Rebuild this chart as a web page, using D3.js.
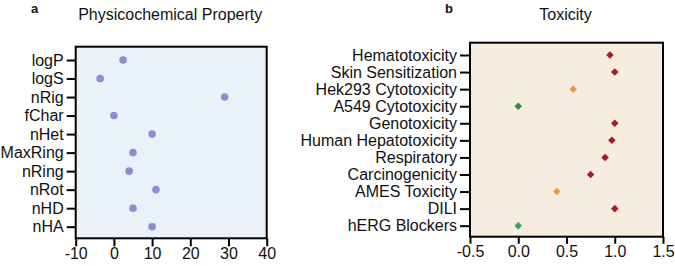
<!DOCTYPE html>
<html lang="en">
<head>
<meta charset="UTF-8">
<title>Physicochemical Property and Toxicity</title>
<script src="https://d3js.org/d3.v7.min.js"></script>
<style>
    body { margin: 0; background: #ffffff; }
    svg text { font-family: "Liberation Sans", Arial, sans-serif; fill: #111; }
    .tick line { stroke: #000; stroke-width: 2; }
</style>
</head>
<body>
<div id="chart"></div>
<script>
// Panel a data
const propNames = ["logP", "logS", "nRig", "fChar", "nHet", "MaxRing", "nRing", "nRot", "nHD", "nHA"];
const propValues = [2.4, -3.6, 29, 0, 10, 5, 4, 11, 5, 10];
const propTicks = [-10, 0, 10, 20, 30, 40];

// Panel b data
const toxNames = ["Hematotoxicity", "Skin Sensitization", "Hek293 Cytotoxicity", "A549 Cytotoxicity",
    "Genotoxicity", "Human Hepatotoxicity", "Respiratory", "Carcinogenicity", "AMES Toxicity", "DILI", "hERG Blockers"];
const toxValues = [0.95, 1.0, 0.57, 0.0, 1.0, 0.97, 0.90, 0.75, 0.40, 1.0, 0.0];
const toxLevel = ["high", "high", "mid", "low", "high", "high", "high", "high", "mid", "high", "low2"];
const toxTicks = [-0.5, 0.0, 0.5, 1.0, 1.5];

const levelColor = { high: "#a31c25", mid: "#ea9a3e", low: "#2e8a47", low2: "#3c9f62" };

// plain hyphen for negatives, like the original
const fmtInt = d => String(d);
const fmtOne = d => d.toFixed(1);

const svg = d3.select("#chart").append("svg")
    .attr("width", 675)
    .attr("height", 266);

// ---- panel a ----
const a = { left: 75.7, right: 266.7, top: 46.7, bottom: 238.3 };

const xA = d3.scaleLinear().domain([-10, 40]).range([a.left, a.right]);
const yA = d3.scalePoint().domain(propNames).range([60, 226.7]);

svg.append("rect")
    .attr("x", a.left).attr("y", a.top)
    .attr("width", a.right - a.left).attr("height", a.bottom - a.top)
    .attr("fill", "#ebf1f9");

svg.selectAll("circle.dot")
    .data(propNames)
    .enter()
    .append("circle")
    .attr("class", "dot")
    .attr("cx", (d, i) => xA(propValues[i]))
    .attr("cy", d => yA(d))
    .attr("r", 3.8)
    .attr("fill", "#8b8fd0");

svg.append("rect")
    .attr("x", a.left).attr("y", a.top)
    .attr("width", a.right - a.left).attr("height", a.bottom - a.top)
    .attr("fill", "none").attr("stroke", "#000").attr("stroke-width", 2);

const axA = svg.append("g")
    .attr("transform", `translate(${a.left},0)`)
    .call(d3.axisLeft(yA).tickSize(9).tickPadding(3));
axA.select(".domain").remove();
axA.selectAll("text").style("font-size", "16px");

const bxA = svg.append("g")
    .attr("transform", `translate(0,${a.bottom})`)
    .call(d3.axisBottom(xA).tickValues(propTicks).tickSize(8).tickPadding(1).tickFormat(fmtInt));
bxA.select(".domain").remove();
bxA.selectAll("text").style("font-size", "16px");

svg.append("text")
    .attr("x", (a.left + a.right) / 2 - 1).attr("y", 20)
    .attr("text-anchor", "middle")
    .style("font-size", "16px")
    .text("Physicochemical Property");

svg.append("text")
    .attr("x", 31).attr("y", 12.5)
    .style("font-size", "13px").style("font-weight", "bold")
    .text("a");

// ---- panel b ----
const b = { left: 470, right: 663, top: 42.7, bottom: 236.7 };

const xB = d3.scaleLinear().domain([-0.5, 1.5]).range([b.left, b.right]);
const yB = d3.scalePoint().domain(toxNames).range([55, 225.7]);

svg.append("rect")
    .attr("x", b.left).attr("y", b.top)
    .attr("width", b.right - b.left).attr("height", b.bottom - b.top)
    .attr("fill", "#f4ede0");

const diamond = d3.symbol().type(d3.symbolDiamond2).size(36);

svg.selectAll("path.diamond")
    .data(toxNames)
    .enter()
    .append("path")
    .attr("class", "diamond")
    .attr("d", diamond)
    .attr("transform", (d, i) => `translate(${xB(toxValues[i])},${yB(d)})`)
    .attr("fill", (d, i) => levelColor[toxLevel[i]]);

svg.append("rect")
    .attr("x", b.left).attr("y", b.top)
    .attr("width", b.right - b.left).attr("height", b.bottom - b.top)
    .attr("fill", "none").attr("stroke", "#000").attr("stroke-width", 2);

const axB = svg.append("g")
    .attr("transform", `translate(${b.left},0)`)
    .call(d3.axisLeft(yB).tickSize(10).tickPadding(3));
axB.select(".domain").remove();
axB.selectAll("text").style("font-size", "16px");

const bxB = svg.append("g")
    .attr("transform", `translate(0,${b.bottom})`)
    .call(d3.axisBottom(xB).tickValues(toxTicks).tickSize(7).tickPadding(1.5).tickFormat(fmtOne));
bxB.select(".domain").remove();
bxB.selectAll("text").style("font-size", "16px");

svg.append("text")
    .attr("x", (b.left + b.right) / 2 - 1).attr("y", 20)
    .attr("text-anchor", "middle")
    .style("font-size", "16px")
    .text("Toxicity");

svg.append("text")
    .attr("x", 445).attr("y", 12.5)
    .style("font-size", "13px").style("font-weight", "bold")
    .text("b");
</script>
</body>
</html>
